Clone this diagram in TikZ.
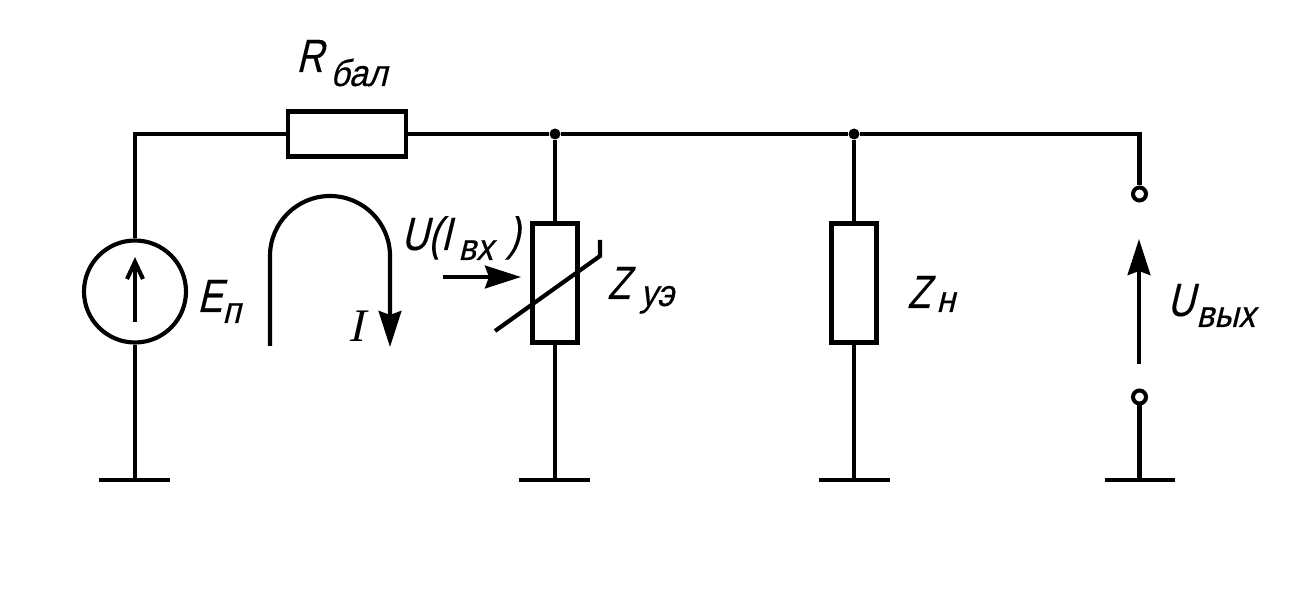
\documentclass[tikz,border=0pt]{standalone}
\usepackage{fontspec}
\usetikzlibrary{arrows.meta}
\setmainfont{Liberation Sans}
\newfontfamily\gost[FakeSlant=0.24,FakeStretch=0.9,FakeBold=0.3]{Liberation Sans}
\newfontfamily\gostbig[FakeSlant=0.24,FakeStretch=0.8,FakeBold=0.3]{Liberation Sans}
\newfontfamily\gostserif[FakeSlant=0.22]{Liberation Serif}
\newcommand{\pxu}{0.75pt}
\tikzset{
  wire/.style={line width=3.1pt,line cap=butt,line join=miter},
  box/.style={draw,line width=3.2pt,rectangle,inner sep=0pt,fill=white},
  hbox/.style={box,minimum width=118*\pxu,minimum height=45*\pxu},
  vbox/.style={box,minimum width=45*\pxu,minimum height=119*\pxu},
  source/.style={draw,line width=3.1pt,circle,inner sep=0pt,minimum size=102*\pxu},
  terminal/.style={draw,line width=3pt,circle,inner sep=0pt,minimum size=13*\pxu,fill=white},
  junction/.style={fill,circle,inner sep=0pt,minimum size=11*\pxu},
  big/.style={font=\gostbig\fontsize{35pt}{35pt}\selectfont,anchor=base west,inner sep=0pt},
  small/.style={font=\gost\fontsize{28pt}{28pt}\selectfont,anchor=base west,inner sep=0pt},
  serifl/.style={font=\gostserif\fontsize{35pt}{35pt}\selectfont,anchor=base west,inner sep=0pt},
  bighead/.style={-{Stealth[length=27pt,width=17pt,inset=3pt]}},
}
\begin{document}
\begin{tikzpicture}[x=\pxu,y=-\pxu]
\useasboundingbox (0,0) rectangle (1299,591);
% components
\node[hbox] (rb) at (347,134) {};
\node[source] (src) at (135,291.5) {};
\node[vbox] (zu) at (555,283) {};
\node[vbox] (zn) at (854,283) {};
\node[junction] (j1) at (555,134) {};
\node[junction] (j2) at (854,134) {};
\node[terminal] (t1) at (1139.5,194) {};
\node[terminal] (t2) at (1139.5,397) {};
% ground bars
\coordinate (g1) at (135,480);
\coordinate (g2) at (555,480);
\coordinate (g3) at (854,480);
\coordinate (g4) at (1139.5,480);
\coordinate (corner) at (135,134);
\coordinate (cornerR) at (1139.5,134);
% wiring
\draw[wire] (src.north) -- (corner) -- (rb.west);
\draw[wire] (rb.east) -- (j1) -- (j2) -- (cornerR) -- (t1.north);
\draw[wire] (src.south) -- (g1);
\draw[wire] (j1) -- (zu.north);
\draw[wire] (zu.south) -- (g2);
\draw[wire] (j2) -- (zn.north);
\draw[wire] (zn.south) -- (g3);
\draw[wire] (t2.south) -- (g4);
\draw[wire] (99,480) -- (170,480);
\draw[wire] (519,480) -- (590,480);
\draw[wire] (819,480) -- (890,480);
\draw[wire] (1105,480) -- (1175,480);
% source arrow
\draw[wire] (135,322) -- (135,264);
\draw[wire] (127,279) -- (135,262) -- (143,279);
% current loop
\coordinate (la) at (270,346);
\coordinate (lb) at (390,347);
\draw[wire,bighead] (la) -- (270,256) arc[start angle=180,end angle=360,radius=60] -- (lb);
% control arrow
\coordinate (ua) at (443,277);
\coordinate (ub) at (521,277);
\draw[wire,bighead] (ua) -- (ub);
% nonlinearity mark
\draw[wire] (495,331) -- (600,256) -- (600,240);
% output arrow
\coordinate (oa) at (1139,364);
\coordinate (ob) at (1139,239);
\draw[wire,bighead] (oa) -- (ob);
% labels
\node[big] (lR) at (296,72) {R};
\node[small] (lb1) at (330,86) {бал};
\node[big] (lE) at (197,312) {E};
\node[small] (lp) at (222,323) {п};
\node[serifl] (lI) at (348,342) {I};
\node[big] (lU) at (401,250) {U(I};
\node[small] (lbx) at (458,260) {вх};
\node[big] (lpar) at (507,250) {)};
\node[big] (lZ) at (607,299) {Z};
\node[small] (lye) at (640,306) {уэ};
\node[big] (lZn) at (907,308) {Z};
\node[small] (ln) at (936,312) {н};
\node[big] (lUo) at (1167,316) {U};
\node[small] (lvyh) at (1196,327) {вых};
\end{tikzpicture}
\end{document}
